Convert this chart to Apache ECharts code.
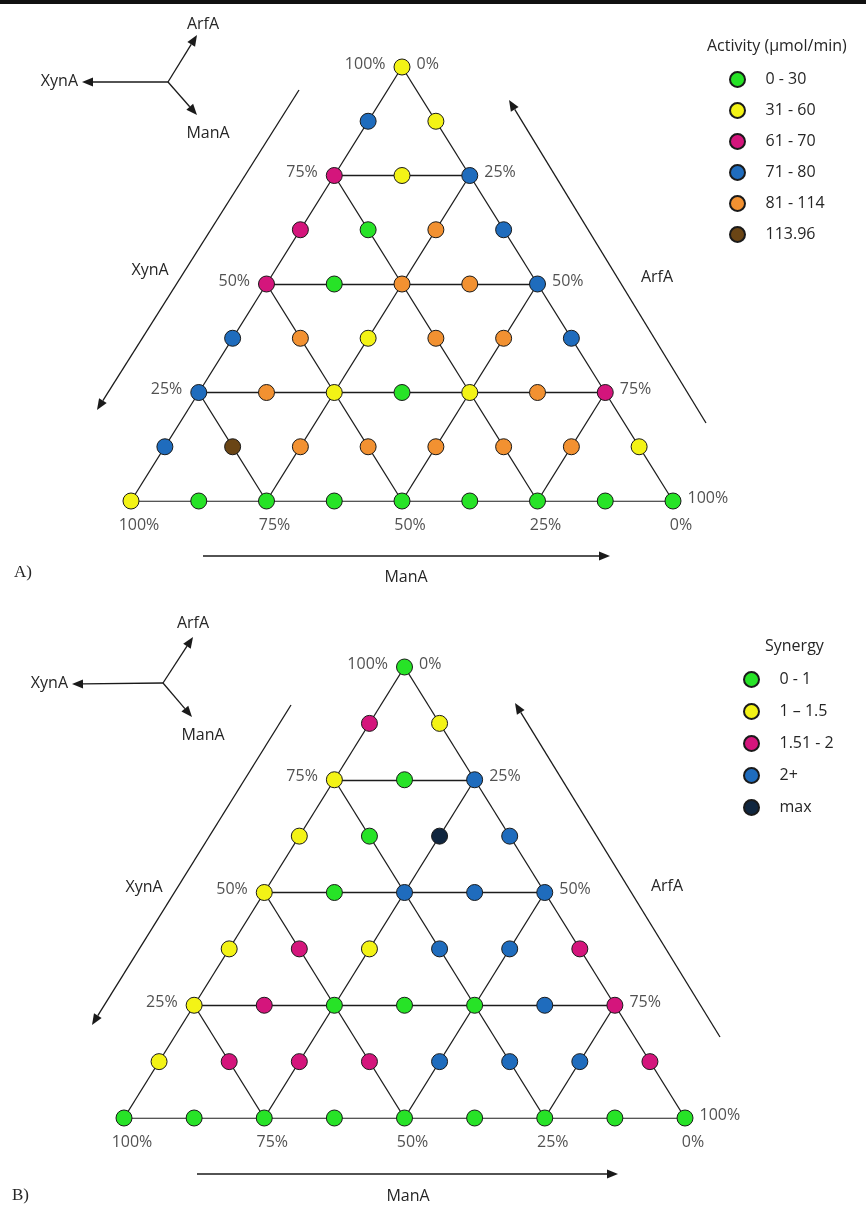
<!DOCTYPE html>
<html>
<head>
<meta charset="utf-8">
<title>Ternary activity and synergy</title>
<script src="https://cdn.jsdelivr.net/npm/echarts@6/dist/echarts.min.js"></script>
<style>
  html, body { margin: 0; padding: 0; background: #fff; }
  #main { width: 866px; height: 1205px; }
</style>
</head>
<body>
<div id="main"></div>
<script>
// lattice of 12.5% steps, rows from the base (row 0) up to the apex (row 8), left to right
const activityClasses = ['0 - 30', '31 - 60', '61 - 70', '71 - 80', '81 - 114', '113.96']
const activityRows = [
  [1, 0, 0, 0, 0, 0, 0, 0, 0],
  [3, 5, 4, 4, 4, 4, 4, 1],
  [3, 4, 1, 0, 1, 4, 2],
  [3, 4, 1, 4, 4, 3],
  [2, 0, 4, 4, 3],
  [2, 0, 4, 3],
  [2, 1, 3],
  [3, 1],
  [1]
]
const synergyClasses = ['0 - 1', '1 \u2013 1.5', '1.51 - 2', '2+', 'max']
const synergyRows = [
  [0, 0, 0, 0, 0, 0, 0, 0, 0],
  [1, 2, 2, 2, 3, 3, 3, 2],
  [1, 2, 0, 0, 0, 3, 2],
  [1, 2, 1, 3, 3, 2],
  [1, 0, 3, 3, 3],
  [1, 0, 4, 3],
  [1, 0, 3],
  [2, 1],
  [0]
]
// tick labels (percent) on each side
const xynTicks = [100, 75, 50, 25]     // left side, apex downwards
const arfTicks = [0, 25, 50, 75, 100]  // right side, apex downwards
const manTicks = [100, 75, 50, 25, 0]  // base, left to right

const activityColors = ['#27e327', '#f3f316', '#d4157c', '#1f6cbd', '#f29131', '#6a4515']
const synergyColors = ['#27e327', '#f3f316', '#d4157c', '#1f6cbd', '#10263f']

const FONT = '"Open Sans", "Liberation Sans", sans-serif'
const TXT = '#262626'
const FS = 16
const STEP = 12.5

// lattice (row, pos) -> cartesian units: x = pos + row/2, y = row
function classPoints(rows, cls) {
  const pts = []
  rows.forEach(function(row, r) {
    row.forEach(function(c, k) {
      if (c === cls) pts.push([k + r / 2, r])
    })
  })
  return pts
}

// 25% grid inside the triangle
function gridLines() {
  const segs = []
  for (const k of [0, 2, 4, 6]) {
    segs.push({ coords: [[k / 2, k], [8 - k / 2, k]] })
    segs.push({ coords: [[k, 0], [k + (8 - k) / 2, 8 - k]] })
    segs.push({ coords: [[k + 2, 0], [(k + 2) / 2, k + 2]] })
  }
  return segs
}

function tickSeries(g) {
  const lab = { show: true, color: TXT, fontFamily: FONT, fontSize: FS, formatter: p => p.value[2] + '%' }
  const base = { type: 'scatter', xAxisIndex: g, yAxisIndex: g, symbolSize: 1, silent: true, itemStyle: { color: 'rgba(0,0,0,0)' } }
  return [
    Object.assign({}, base, {
      data: xynTicks.map(p => { const r = p / STEP; return [r / 2, r, p] }),
      label: Object.assign({}, lab, { position: 'left', distance: 16, offset: [0, -3] })
    }),
    Object.assign({}, base, {
      data: arfTicks.map(p => { const r = 8 - p / STEP; return [8 - r / 2, r, p] }),
      label: Object.assign({}, lab, { position: 'right', distance: 14, offset: [0, -3] })
    }),
    Object.assign({}, base, {
      data: manTicks.map(p => [8 - p / STEP, 0, p]),
      label: Object.assign({}, lab, { position: 'bottom', distance: 16, offset: [8, 0] })
    })
  ]
}

function panelSeries(g, rows, classes, colors) {
  const out = [{
    type: 'lines', coordinateSystem: 'cartesian2d', xAxisIndex: g, yAxisIndex: g,
    data: gridLines(), silent: true, z: 1,
    lineStyle: { color: '#1c1c1c', width: 1.3, opacity: 1 }
  }]
  classes.forEach(function(name, i) {
    out.push({
      type: 'scatter', name: name, xAxisIndex: g, yAxisIndex: g, z: 3,
      symbolSize: 16,
      itemStyle: { color: colors[i], borderColor: '#1a1a1a', borderWidth: 1, opacity: 1 },
      data: classPoints(rows, i)
    })
  })
  return out.concat(tickSeries(g))
}

// annotation helpers (arrows and free text)
function arrow(x1, y1, x2, y2) {
  const a = Math.atan2(y2 - y1, x2 - x1), L = 11, H = 4.5
  const bx = x2 - L * Math.cos(a), by = y2 - L * Math.sin(a)
  return [
    { type: 'line', shape: { x1: x1, y1: y1, x2: bx, y2: by }, style: { stroke: '#1a1a1a', lineWidth: 1.3 } },
    { type: 'polygon', shape: { points: [[x2, y2], [bx - H * Math.sin(a), by + H * Math.cos(a)], [bx + H * Math.sin(a), by - H * Math.cos(a)]] }, style: { fill: '#1a1a1a' } }
  ]
}
function text(x, y, t, align, font) {
  return { type: 'text', x: x, y: y, style: { text: t, font: font || (FS + 'px ' + FONT), fill: TXT, align: align || 'center', verticalAlign: 'middle' } }
}
function compass(cx, cy, arf, xyn, man) {
  return [].concat(
    arrow(cx, cy, arf[0], arf[1]), arrow(cx, cy, xyn[0], xyn[1]), arrow(cx, cy, man[0], man[1])
  )
}

const graphics = [].concat(
  [{ type: 'rect', shape: { x: 0, y: 0, width: 866, height: 4 }, style: { fill: '#111' } }],
  // panel A
  compass(168, 82, [197, 35], [82, 82], [197, 115]),
  [text(203, 24, 'ArfA'), text(78, 81, 'XynA', 'right'), text(208, 133, 'ManA')],
  arrow(299, 90, 97, 410), arrow(706, 423, 509, 100), arrow(203, 556, 610, 556),
  [text(150, 270, 'XynA'), text(657, 277, 'ArfA'), text(406, 577, 'ManA')],
  [text(14, 573, 'A)', 'left', '17px "Liberation Serif", serif')],
  // panel B
  compass(163, 683, [193, 637], [72, 684], [192, 717]),
  [text(193, 623, 'ArfA'), text(68, 683, 'XynA', 'right'), text(203, 735, 'ManA')],
  arrow(291, 705, 92, 1025), arrow(720, 1037, 515, 703), arrow(197, 1174, 618, 1174),
  [text(144, 887, 'XynA'), text(667, 886, 'ArfA'), text(408, 1196, 'ManA')],
  [text(12, 1196, 'B)', 'left', '17px "Liberation Serif", serif')]
)

const chart = echarts.init(document.getElementById('main'))
const axisOff = { type: 'value', min: 0, max: 8, show: false }
const legendBase = {
  orient: 'vertical', icon: 'circle', itemWidth: 46, itemHeight: 15, selectedMode: false, padding: 0,
  textStyle: { fontFamily: FONT, fontSize: FS, color: TXT }
}
chart.setOption({
  animation: false,
  backgroundColor: '#fff',
  title: [
    { text: 'Activity (\u00b5mol/min)', left: 707, top: 38, padding: 0, textStyle: { fontFamily: FONT, fontSize: FS, fontWeight: 'normal', color: TXT } },
    { text: 'Synergy', left: 765, top: 638, padding: 0, textStyle: { fontFamily: FONT, fontSize: FS, fontWeight: 'normal', color: TXT } }
  ],
  legend: [
    Object.assign({}, legendBase, { data: activityClasses, left: 729, top: 71, itemGap: 14 }),
    Object.assign({}, legendBase, { data: synergyClasses, left: 743, top: 671, itemGap: 15 })
  ],
  grid: [
    { left: 131, top: 67, width: 542, height: 434 },
    { left: 124, top: 667, width: 561, height: 451 }
  ],
  xAxis: [Object.assign({ gridIndex: 0 }, axisOff), Object.assign({ gridIndex: 1 }, axisOff)],
  yAxis: [Object.assign({ gridIndex: 0 }, axisOff), Object.assign({ gridIndex: 1 }, axisOff)],
  graphic: graphics,
  series: panelSeries(0, activityRows, activityClasses, activityColors)
    .concat(panelSeries(1, synergyRows, synergyClasses, synergyColors))
})
</script>
</body>
</html>
